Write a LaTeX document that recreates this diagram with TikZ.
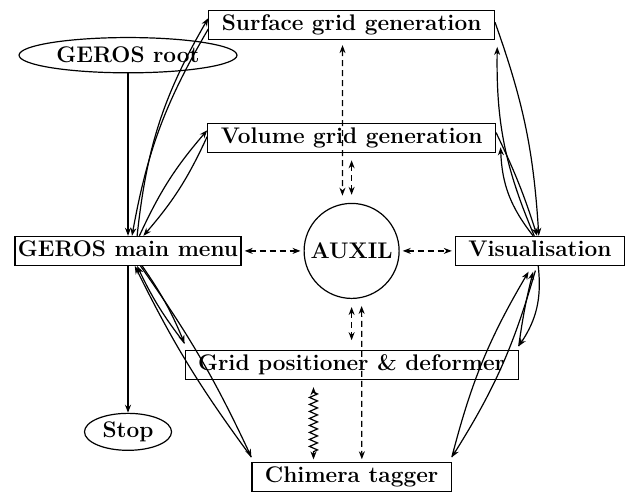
\documentclass[tikz,border=0pt]{standalone}
\usepackage{tikz}
\usetikzlibrary{positioning, arrows.meta, shapes.geometric, decorations.pathmorphing}

\begin{document}
\begin{tikzpicture}[
    >={Stealth[length=4pt, width=3pt]},
    label_font/.style={font=\fontsize{11.3}{13}\selectfont\bfseries},
    box/.style={rectangle, draw=black, line width=0.6pt, label_font, text height=8pt, text depth=2.5pt, inner xsep=6.5pt, inner ysep=2pt},
    oval/.style={ellipse, draw=black, line width=0.6pt, label_font, inner sep=0pt},
    hub/.style={circle, draw=black, line width=0.6pt, label_font, minimum size=1.67cm, inner sep=0pt},
    flow_line/.style={draw=black, line width=0.6pt, ->},
    aux_line/.style={draw=black, line width=0.6pt, <->, dash pattern=on 3pt off 2pt, shorten <=1.5pt, shorten >=1.5pt},
    snake_line/.style={draw=black, line width=0.6pt, <->, decorate, decoration={zigzag, amplitude=2pt, segment length=3.5pt, pre length=2.5pt, post length=2.5pt}}
]

\useasboundingbox (0,0) rectangle (11.02,-8.72);

% Blocks
\node[box] (surf) at (6.18cm,-0.44cm) {Surface grid generation};
\node[oval, minimum width=3.83cm, minimum height=0.62cm] (root) at (2.25cm,-0.97cm) {GEROS root};
\node[box] (vol) at (6.18cm,-2.43cm) {Volume grid generation};
\node[box, inner xsep=1.5pt] (menu) at (2.25cm,-4.41cm) {GEROS main menu};
\node[hub] (auxil) at (6.18cm,-4.41cm) {AUXIL};
\node[box] (vis) at (9.49cm,-4.41cm) {Visualisation};
\node[box] (grid) at (6.18cm,-6.42cm) {Grid positioner \& deformer};
\node[oval, minimum width=1.53cm, minimum height=0.65cm] (stop) at (2.25cm,-7.59cm) {Stop};
\node[box] (chim) at (6.18cm,-8.39cm) {Chimera tagger};

% Root and stop
\draw[flow_line] (root) -- (menu);
\draw[flow_line] (menu) -- (stop);

% Main menu to the modules and back
\draw[flow_line] ([xshift=0.16cm]menu.north) to[bend left=12] ([yshift=0.12cm]surf.west);
\draw[flow_line] ([yshift=-0.07cm]surf.west) to[bend right=10] ([xshift=0.07cm]menu.north);
\draw[flow_line] ([xshift=0.2cm]menu.north) to[bend left=8] ([yshift=0.14cm]vol.west);
\draw[flow_line] ([yshift=0.03cm]vol.west) to[bend left=8] ([xshift=0.27cm]menu.north);
\draw[flow_line] ([xshift=0.25cm]menu.south) to[bend left=6] ([yshift=0.12cm]grid.north west);
\draw[flow_line] ([yshift=0.12cm]grid.north west) to[bend left=6] ([xshift=0.16cm]menu.south);
\draw[flow_line] ([xshift=0.22cm]menu.south) to[bend left=5] ([yshift=0.09cm]chim.north west);
\draw[flow_line] ([yshift=0.09cm]chim.north west) to[bend left=5] ([xshift=0.12cm]menu.south);

% Visualisation to the modules and back
\draw[flow_line] ([yshift=0.05cm]surf.east) to[bend left=8] ([xshift=-0.02cm]vis.north);
\draw[flow_line] ([xshift=-0.1cm]vis.north) to[bend left=12] ([xshift=0.04cm, yshift=-0.12cm]surf.south east);
\draw[flow_line] ([yshift=0.1cm]vol.east) to[bend left=4] ([xshift=-0.05cm]vis.north);
\draw[flow_line] ([xshift=-0.12cm]vis.north) to[bend left=18] ([xshift=0.08cm, yshift=-0.16cm]vol.east);
\draw[flow_line] ([xshift=-0.03cm]vis.south) to[bend left=20] ([yshift=0.07cm]grid.north east);
\draw[flow_line] ([yshift=0.07cm]grid.north east) to[bend left=3] ([xshift=-0.12cm, yshift=-0.1cm]vis.south);
\draw[flow_line] ([xshift=-0.08cm, yshift=-0.08cm]vis.south) to[bend left=8] ([yshift=0.09cm]chim.north east);
\draw[flow_line] ([yshift=0.09cm]chim.north east) to[bend left=8] ([xshift=-0.2cm, yshift=-0.1cm]vis.south);

% AUXIL links
\draw[aux_line] (menu) -- (auxil);
\draw[aux_line] (auxil) -- (vis);
\draw[aux_line, shorten <=2.5pt, shorten >=4pt] ([xshift=-0.16cm]surf.south) -- (auxil.101);
\draw[aux_line, shorten <=3.5pt, shorten >=4pt] (vol) -- (auxil);
\draw[aux_line, shorten <=4pt, shorten >=5pt] (auxil) -- (grid);
\draw[aux_line, shorten <=4pt, shorten >=1.5pt] (auxil.-78) -- ([xshift=0.18cm]chim.north);

% Grid positioner and tagger
\draw[snake_line] ([xshift=-0.67cm, yshift=-0.12cm]grid.south) -- ([xshift=-0.67cm, yshift=0.05cm]chim.north);

\end{tikzpicture}
\end{document}
